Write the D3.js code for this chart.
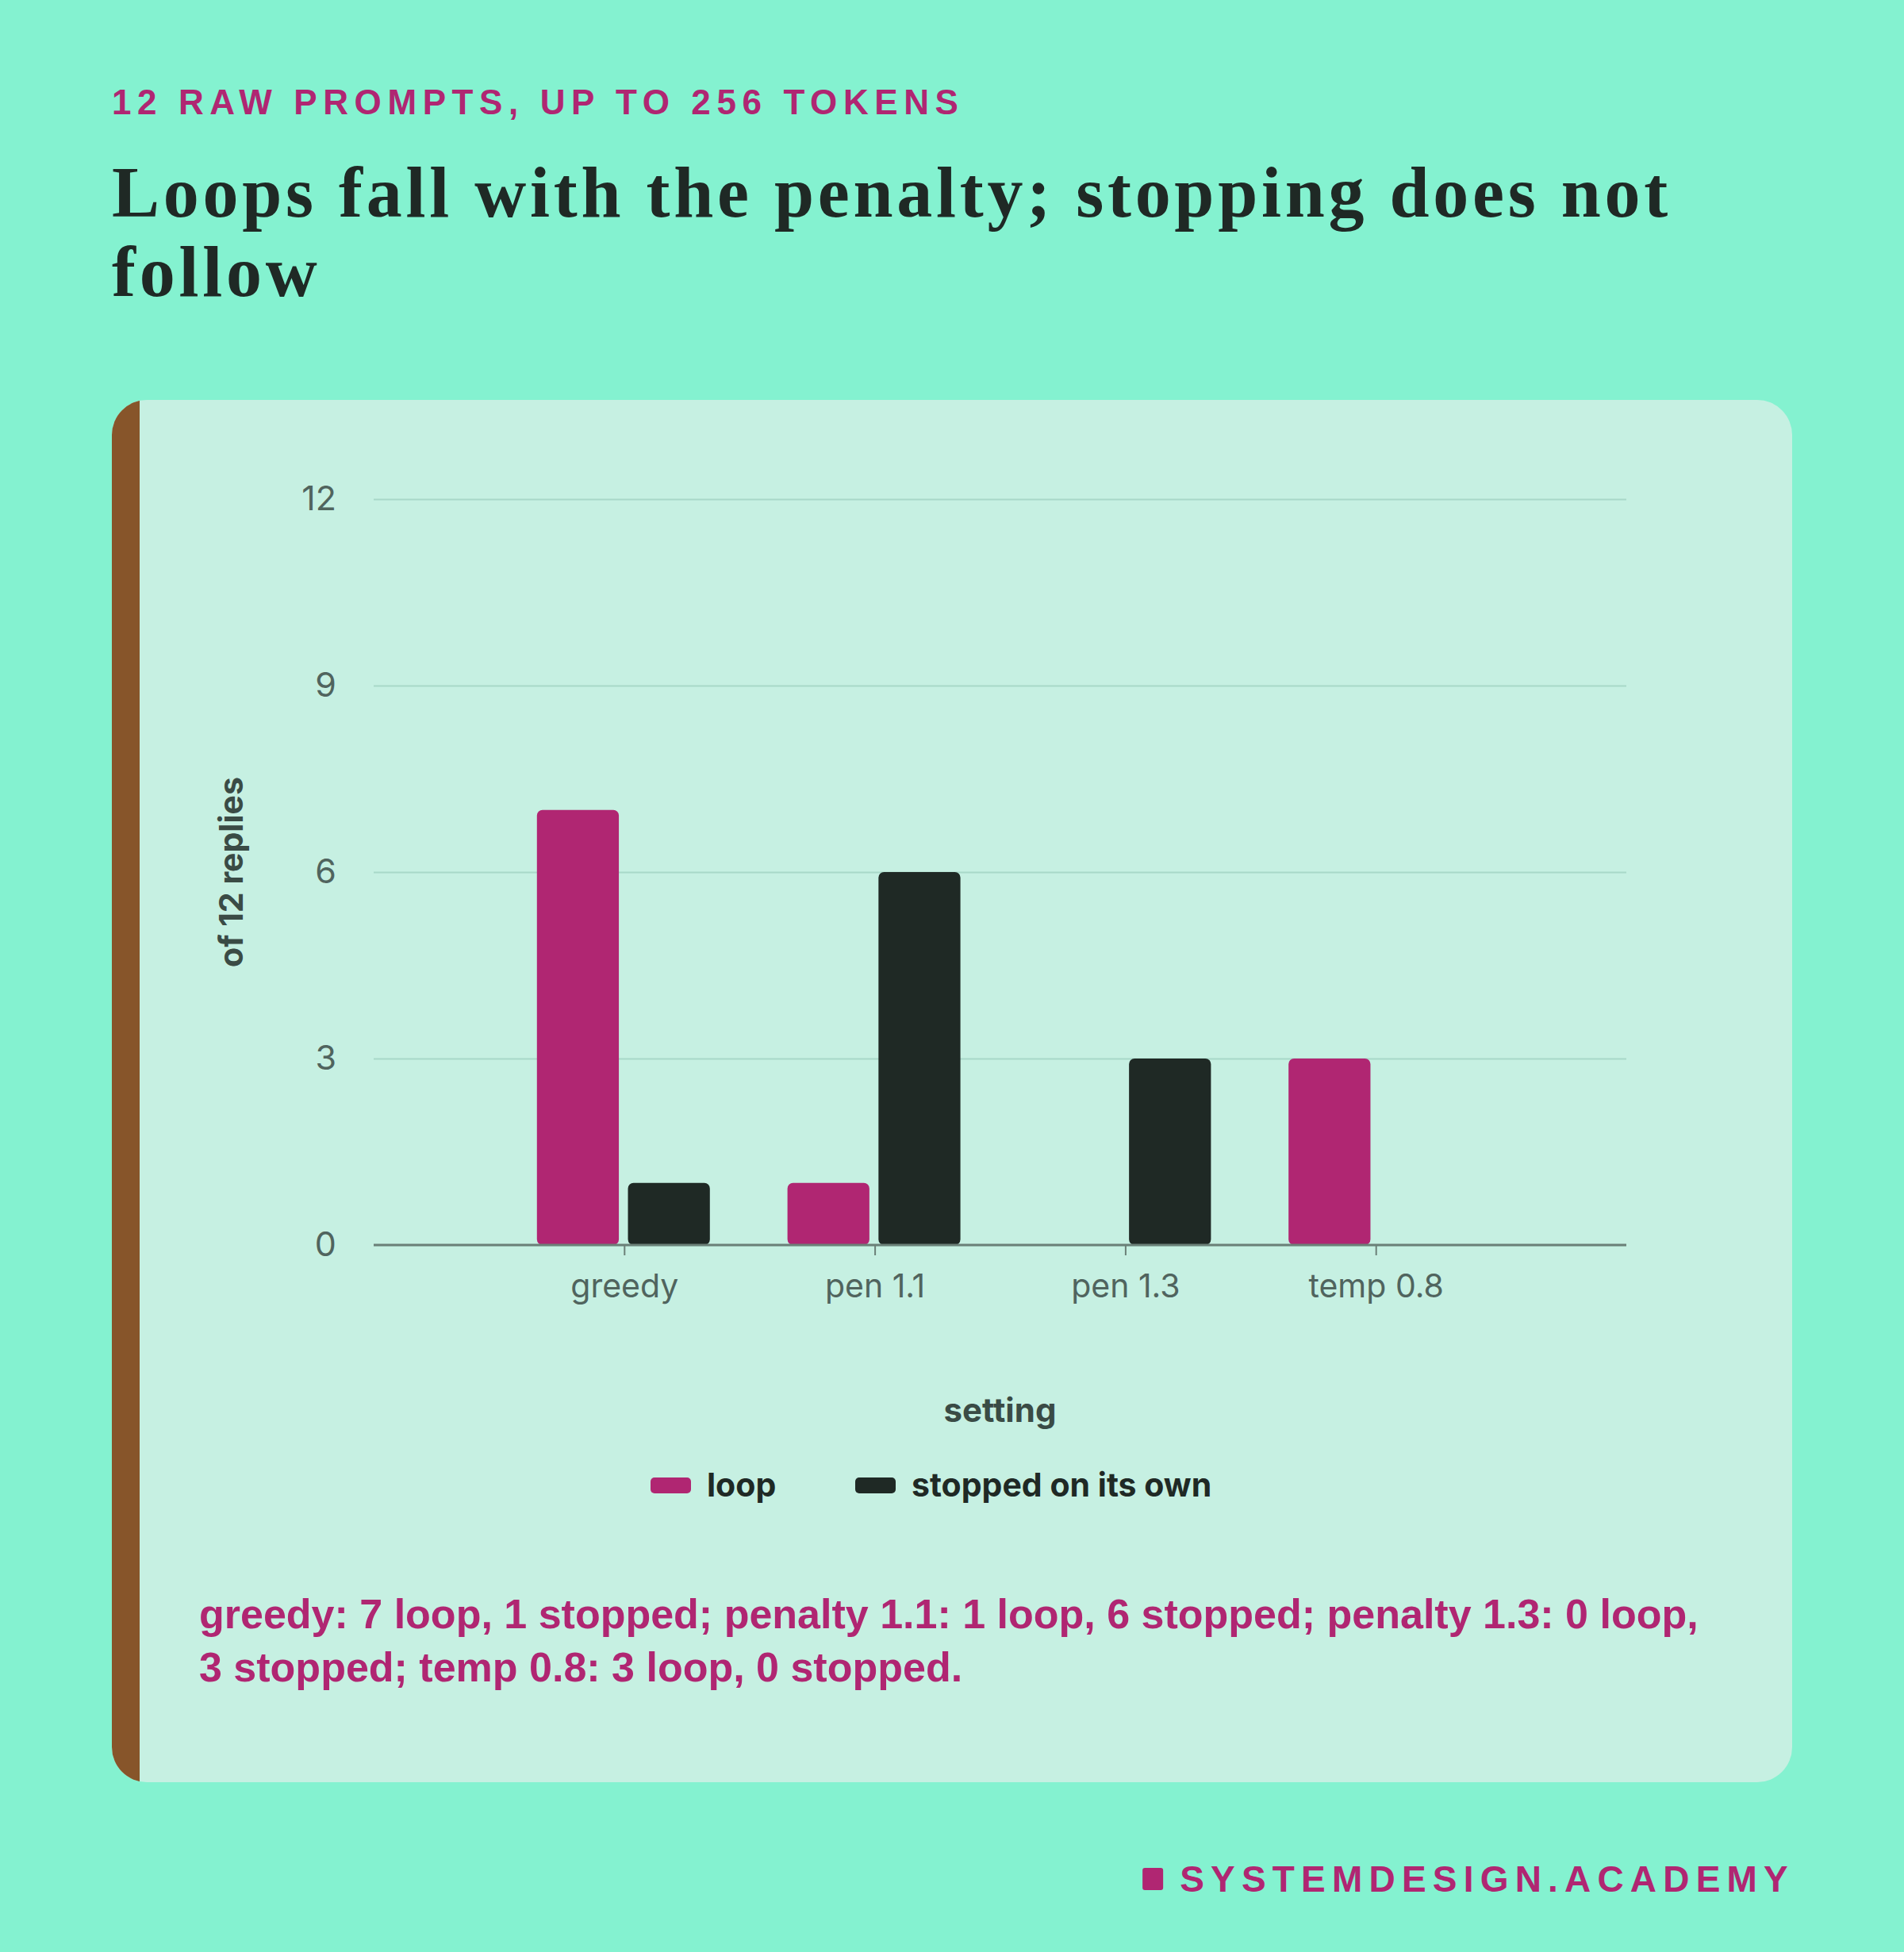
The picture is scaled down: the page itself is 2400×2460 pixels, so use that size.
<!DOCTYPE html>
<html><head><meta charset="utf-8">
<script src="https://cdn.jsdelivr.net/npm/d3@7"></script>
<style>body{margin:0;background:#84f2d0;}svg{display:block;}</style>
</head><body>
<svg id="chart" width="2400" height="2460"></svg>
<script>
const categories = ["greedy", "pen 1.1", "pen 1.3", "temp 0.8"];
const seriesNames = ["loop", "stopped on its own"];
const loopValues = [7, 1, 0, 3];
const stoppedValues = [1, 6, 3, 0];
const yTicks = [0, 3, 6, 9, 12];
const kicker = "12 RAW PROMPTS, UP TO 256 TOKENS";
const titleLines = ["Loops fall with the penalty; stopping does not", "follow"];
const captionLines = ["greedy: 7 loop, 1 stopped; penalty 1.1: 1 loop, 6 stopped; penalty 1.3: 0 loop,", "3 stopped; temp 0.8: 3 loop, 0 stopped."];
const footer = "SYSTEMDESIGN.ACADEMY";

const C = {bg:"#84f2d0", card:"#c6f0e2", brown:"#87552a", magenta:"#b02672", dark:"#1f2925", grid:"#a8d8c8", axis:"#6b8078", tick:"#50645e", axTitle:"#3a4b45"};
const colors = [C.magenta, C.dark];
const svg = d3.select("#chart");

// kicker
svg.append("text").attr("x",141).attr("y",144).text(kicker)
  .attr("font-family","Liberation Sans, Arial, sans-serif").attr("font-weight",700)
  .attr("font-size",44).attr("letter-spacing",7.6).attr("fill",C.magenta);

// title
const title = svg.append("g");
titleLines.forEach((t,i)=>{
  title.append("text").attr("x",141).attr("y",273+i*100).text(t)
    .attr("font-family","Liberation Serif, Georgia, serif").attr("font-weight",700)
    .attr("font-size",90).attr("fill",C.dark);
});
{
  const first = title.select("text").node();
  const w = first.getComputedTextLength();
  const ls = Math.max(0, (1966 - w) / titleLines[0].length);
  title.selectAll("text").attr("letter-spacing", ls);
}

// card
const cardX=141, cardY=504, cardW=2259-141, cardH=2246-504;
const clip = svg.append("defs").append("clipPath").attr("id","cardclip");
clip.append("rect").attr("x",cardX).attr("y",cardY).attr("width",cardW).attr("height",cardH).attr("rx",44);
const card = svg.append("g").attr("clip-path","url(#cardclip)");
card.append("rect").attr("x",cardX).attr("y",cardY).attr("width",cardW).attr("height",cardH).attr("fill",C.card);
card.append("rect").attr("x",cardX).attr("y",cardY).attr("width",35).attr("height",cardH).attr("fill",C.brown);

// scales
const plotL=471, plotR=2050, plotT=629, plotB=1569;
const x = d3.scalePoint().domain(categories).range([plotL,plotR]).padding(1);
const x1 = d3.scaleBand().domain(seriesNames).range([-110,108]).paddingInner(0.1);
const y = d3.scaleLinear().domain([0,12]).range([plotB,plotT]);

// grid
const grid = svg.append("g").attr("transform",`translate(${plotL},0)`)
  .call(d3.axisLeft(y).tickValues(yTicks).tickSize(-(plotR-plotL)).tickFormat(""));
grid.select(".domain").remove();
grid.selectAll("line").attr("stroke",C.grid).attr("stroke-width",2);

// y labels
const yAx = svg.append("g").attr("transform",`translate(${plotL},0)`)
  .call(d3.axisLeft(y).tickValues(yTicks).tickSize(0).tickPadding(47));
yAx.select(".domain").remove();
yAx.selectAll("text").attr("font-family","Inter, sans-serif").attr("font-size",43).attr("fill",C.tick);

// bars
const data = categories.map((c,i)=>({cat:c, vals:[loopValues[i], stoppedValues[i]]}));
const groups = svg.append("g").selectAll("g").data(data).join("g")
  .attr("transform",d=>`translate(${x(d.cat)},0)`);
groups.selectAll("rect").data(d=>d.vals.map((v,j)=>({v, s:seriesNames[j], j})).filter(e=>e.v>0)).join("rect")
  .attr("x",e=>x1(e.s)).attr("width",x1.bandwidth())
  .attr("y",e=>y(e.v)).attr("height",e=>y(0)-y(e.v))
  .attr("rx",7).attr("fill",e=>colors[e.j]);

// x axis
const xAx = svg.append("g").attr("transform",`translate(0,${plotB})`)
  .call(d3.axisBottom(x).tickSize(13).tickPadding(24).tickSizeOuter(0));
xAx.select(".domain").attr("stroke",C.axis).attr("stroke-width",3)
  .attr("d",`M${plotL},0H${plotR}`);
xAx.selectAll("line").attr("stroke",C.axis).attr("stroke-width",2);
xAx.selectAll("text").attr("font-family","Inter, sans-serif").attr("font-size",41).attr("fill",C.tick);

// axis titles
svg.append("text").attr("x",(plotL+plotR)/2).attr("y",1792).attr("text-anchor","middle")
  .text("setting").attr("font-family","Inter, sans-serif").attr("font-weight",700)
  .attr("font-size",42).attr("fill",C.axTitle);
svg.append("text").attr("transform",`translate(306,${(plotT+plotB)/2}) rotate(-90)`)
  .attr("text-anchor","middle").text("of 12 replies")
  .attr("font-family","Inter, sans-serif").attr("font-weight",700)
  .attr("font-size",41).attr("fill",C.axTitle);

// legend
const legX = [820, 1078];
const leg = svg.append("g").selectAll("g").data(seriesNames).join("g")
  .attr("transform",(d,i)=>`translate(${legX[i]},1872)`);
leg.append("rect").attr("x",0).attr("y",-10).attr("width",51).attr("height",20).attr("rx",5)
  .attr("fill",(d,i)=>colors[i]);
leg.append("text").attr("x",71).attr("y",14).text(d=>d)
  .attr("font-family","Inter, sans-serif").attr("font-weight",700).attr("font-size",41).attr("fill",C.dark);

// caption
const cap = svg.append("g");
captionLines.forEach((t,i)=>{
  cap.append("text").attr("x",251).attr("y",2052+i*67).text(t)
    .attr("font-family","Liberation Sans, Arial, sans-serif").attr("font-weight",700)
    .attr("font-size",46).attr("fill",C.magenta);
});
{
  const w = cap.select("text").node().getComputedTextLength();
  cap.selectAll("text").attr("font-size",46*1890/w);
}

// footer
const ft = svg.append("text").attr("x",2262).attr("y",2384).attr("text-anchor","end").text(footer)
  .attr("font-family","Liberation Sans, Arial, sans-serif").attr("font-weight",700)
  .attr("font-size",46).attr("letter-spacing",8.2).attr("fill",C.magenta);
const bb = ft.node().getBBox();
svg.append("rect").attr("x",bb.x-47).attr("y",2384-30).attr("width",26).attr("height",28).attr("rx",3).attr("fill",C.magenta);
</script>
</body></html>
